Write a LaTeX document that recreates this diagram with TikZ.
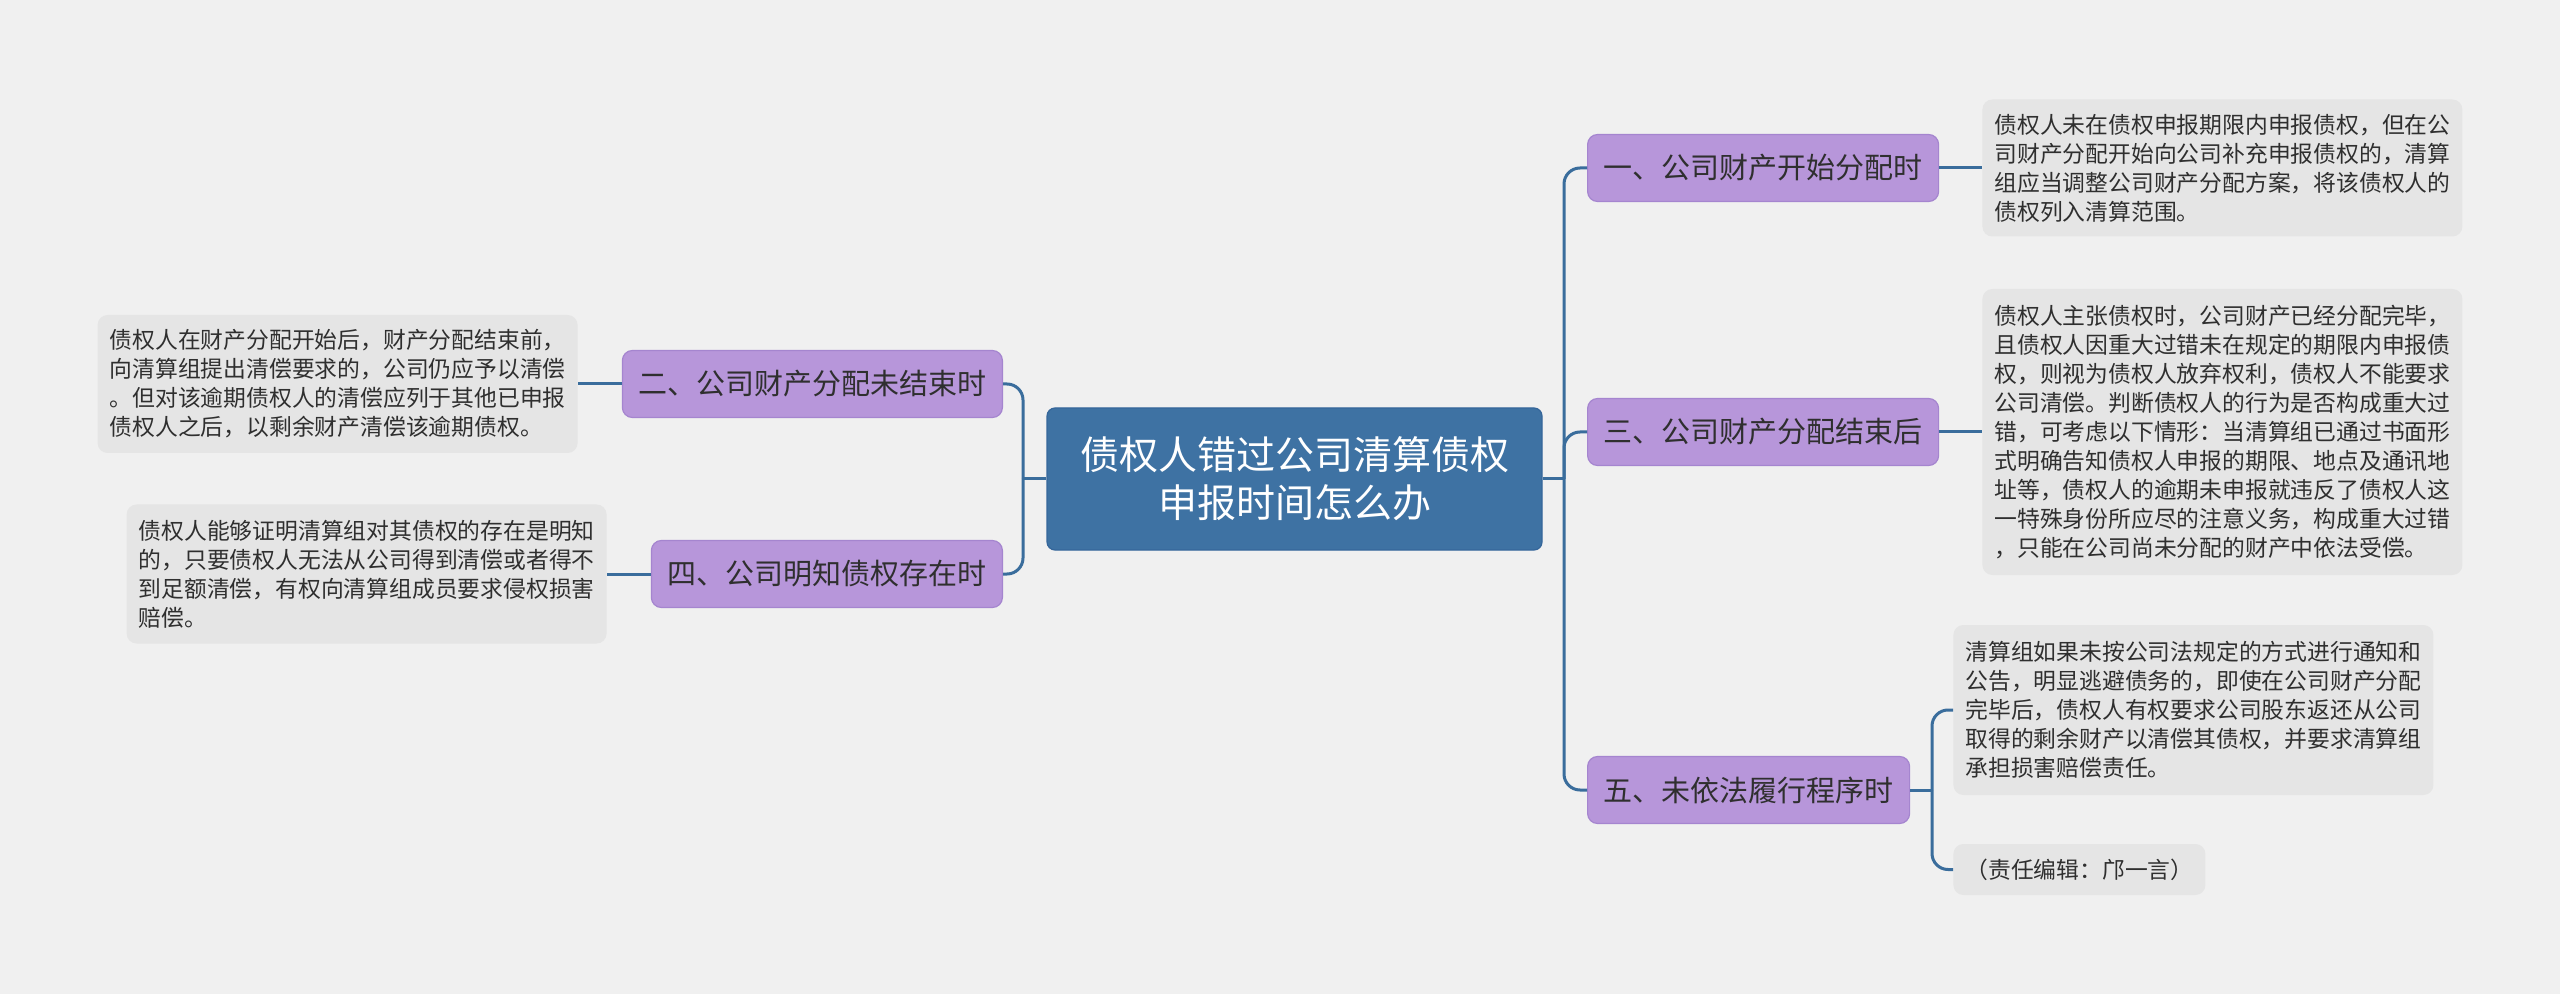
\documentclass[tikz,border=0pt]{standalone}
\usepackage{fontspec}
\setmainfont{Noto Sans CJK SC}
\definecolor{bgpage}{HTML}{F0F0F0}
\definecolor{rootblue}{HTML}{3E72A3}
\definecolor{rootedge}{HTML}{35669A}
\definecolor{branchlila}{HTML}{B796DA}
\definecolor{branchedge}{HTML}{A585CF}
\definecolor{leafgray}{HTML}{E5E5E5}
\definecolor{linkblue}{HTML}{3A6D9C}
\definecolor{inkdark}{HTML}{2F2F2F}
\begin{document}
\begin{tikzpicture}[x=0.5pt,y=-0.5pt,
		rootbox/.style={fill=rootblue,draw=rootedge,line width=0.6pt,rounded corners=4pt,text=white,align=center,
			minimum width=247.5pt,minimum height=71pt,font=\fontsize{19.5}{24}\selectfont},
		branchbox/.style={fill=branchlila,draw=branchedge,line width=0.6pt,rounded corners=5pt,text=inkdark,
			inner xsep=8pt,minimum height=33.5pt,font=\fontsize{14.5}{17}\selectfont},
		leafbox/.style={fill=leafgray,rounded corners=5pt,text=inkdark,align=left,inner xsep=6pt,
			font=\fontsize{11.4}{14.5}\selectfont},
		link/.style={draw=linkblue,line width=1.5pt},
		elbowlink/.style={link,rounded corners=8pt}]
	% fond et cadre
	\fill[bgpage] (0,0) rectangle (2560,994);
	\useasboundingbox (0,0) rectangle (2560,994);
	% noeud central
	\node[rootbox] (root) at (1294.5,479) {债权人错过公司清算债权\\申报时间怎么办};
	% branches
	\node[branchbox,anchor=west] (b1) at (1587,168) {一、公司财产开始分配时};
	\node[branchbox,anchor=west] (b3) at (1587,432) {三、公司财产分配结束后};
	\node[branchbox,anchor=west] (b5) at (1587,790) {五、未依法履行程序时};
	\node[branchbox,anchor=east] (b2) at (1003,384) {二、公司财产分配未结束时};
	\node[branchbox,anchor=east] (b4) at (1003,574) {四、公司明知债权存在时};
	% feuilles
	\node[leafbox,anchor=west,text width=228pt,minimum height=68.5pt] (r1) at (1982,168) {债权人未在债权申报期限内申报债权，但在公\\司财产分配开始向公司补充申报债权的，清算\\组应当调整公司财产分配方案，将该债权人的\\债权列入清算范围。};
	\node[leafbox,anchor=west,text width=228pt,minimum height=143pt] (r3) at (1982,432) {债权人主张债权时，公司财产已经分配完毕，\\且债权人因重大过错未在规定的期限内申报债\\权，则视为债权人放弃权利，债权人不能要求\\公司清偿。判断债权人的行为是否构成重大过\\错，可考虑以下情形：当清算组已通过书面形\\式明确告知债权人申报的期限、地点及通讯地\\址等，债权人的逾期未申报就违反了债权人这\\一特殊身份所应尽的注意义务，构成重大过错\\，只能在公司尚未分配的财产中依法受偿。};
	\node[leafbox,anchor=west,text width=228pt,minimum height=85pt] (r5) at (1953,710) {清算组如果未按公司法规定的方式进行通知和\\公告，明显逃避债务的，即使在公司财产分配\\完毕后，债权人有权要求公司股东返还从公司\\取得的剩余财产以清偿其债权，并要求清算组\\承担损害赔偿责任。};
	\node[leafbox,anchor=west,minimum height=25.5pt] (r5b) at (1953,869.5) {（责任编辑：邝一言）};
	\node[leafbox,anchor=east,text width=228pt,minimum height=69pt] (l2) at (578,384) {债权人在财产分配开始后，财产分配结束前，\\向清算组提出清偿要求的，公司仍应予以清偿\\。但对该逾期债权人的清偿应列于其他已申报\\债权人之后，以剩余财产清偿该逾期债权。};
	\node[leafbox,anchor=east,text width=228pt,minimum height=69.5pt] (l4) at (607,574) {债权人能够证明清算组对其债权的存在是明知\\的，只要债权人无法从公司得到清偿或者得不\\到足额清偿，有权向清算组成员要求侵权损害\\赔偿。};
	% liaisons
	\coordinate (rj) at (1564,479);
	\coordinate (lj) at (1023,479);
	\coordinate (fj) at (1932,790);
	\draw[link] (root.east) -- (rj);
	\draw[link] (root.west) -- (lj);
	\draw[elbowlink] (rj) |- (b1.west);
	\draw[elbowlink] (rj) |- (b3.west);
	\draw[elbowlink] (rj) |- (b5.west);
	\draw[elbowlink] (lj) |- (b2.east);
	\draw[elbowlink] (lj) |- (b4.east);
	\draw[link] (b1.east) -- (r1.west);
	\draw[link] (b3.east) -- (r3.west);
	\draw[link] (b2.west) -- (l2.east);
	\draw[link] (b4.west) -- (l4.east);
	\draw[link] (b5.east) -- (fj);
	\draw[elbowlink] (fj) |- (r5.west);
	\draw[elbowlink] (fj) |- (r5b.west);
\end{tikzpicture}
\end{document}
